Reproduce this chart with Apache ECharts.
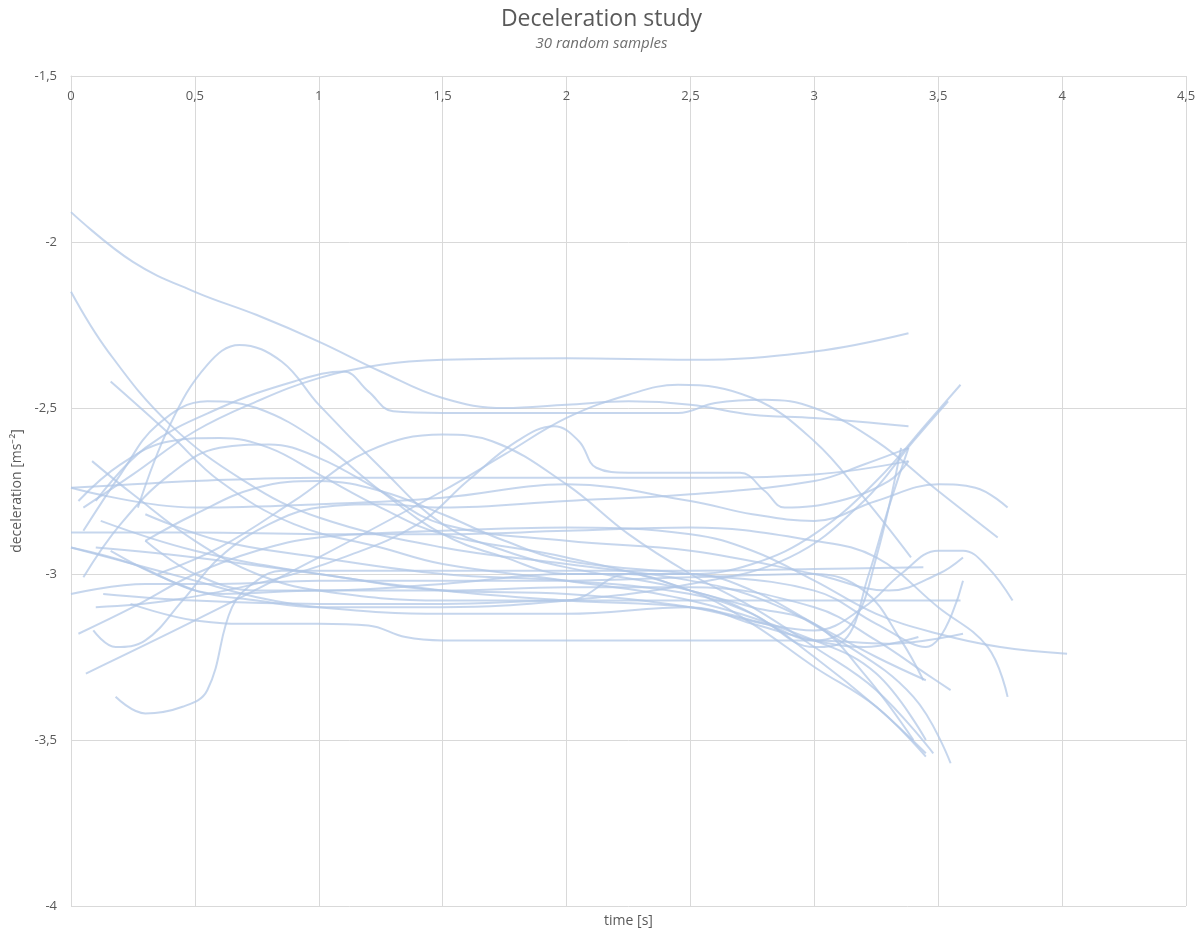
<!DOCTYPE html>
<html>
<head>
<meta charset="utf-8">
<script src="https://cdn.jsdelivr.net/npm/echarts@6/dist/echarts.min.js"></script>
<style>html,body{margin:0;padding:0;background:#fff}#c{width:1203px;height:933px}</style>
</head>
<body>
<div id="c"></div>
<script>
// Chart text
const titleText = 'Deceleration study';
const subtitleText = '30 random samples';
const xName = 'time [s]';
const yName = 'deceleration [ms\u207B\u00B2]';

// Samples: [time s, deceleration ms^-2]
const s01 = [[0,-1.91],[0.25,-2.06],[0.5,-2.15],[0.75,-2.22],[1,-2.3],[1.25,-2.39],[1.5,-2.47],[1.75,-2.5],[2,-2.49],[2.25,-2.48],[2.5,-2.49],[2.75,-2.52],[3,-2.53],[3.38,-2.555]];
const s02 = [[0.05,-2.8],[0.25,-2.7],[0.5,-2.57],[0.75,-2.48],[1,-2.41],[1.25,-2.37],[1.5,-2.355],[2,-2.35],[2.5,-2.355],[3,-2.33],[3.38,-2.275]];
const s03 = [[0.1,-2.78],[0.3,-2.62],[0.6,-2.5],[0.9,-2.42],[1.1,-2.39],[1.2,-2.45],[1.3,-2.51],[1.5,-2.515],[2,-2.515],[2.45,-2.515],[2.6,-2.485],[2.8,-2.475],[3,-2.5],[3.25,-2.6],[3.5,-2.75],[3.74,-2.89]];
const s04 = [[0.27,-2.8],[0.4,-2.55],[0.55,-2.37],[0.68,-2.31],[0.85,-2.36],[1,-2.49],[1.25,-2.68],[1.5,-2.85],[1.75,-2.93],[2,-2.98],[2.5,-3.05],[2.75,-3.12],[3,-3.25],[3.25,-3.4],[3.45,-3.54]];
const s05 = [[0.06,-3.3],[0.5,-3.14],[1,-2.95],[1.5,-2.75],[1.75,-2.64],[2,-2.53],[2.25,-2.46],[2.45,-2.43],[2.75,-2.47],[3,-2.6],[3.2,-2.77],[3.39,-2.95]];
const s06 = [[0.1,-3.1],[0.4,-3.08],[0.8,-3.02],[1.1,-2.95],[1.4,-2.85],[1.6,-2.72],[1.8,-2.6],[1.95,-2.555],[2.05,-2.6],[2.12,-2.68],[2.25,-2.695],[2.5,-2.695],[2.7,-2.695],[2.8,-2.75],[2.88,-2.8],[3.1,-2.78],[3.3,-2.72],[3.38,-2.66]];
const s07 = [[0,-2.74],[0.25,-2.73],[0.5,-2.72],[1,-2.71],[1.5,-2.71],[2,-2.71],[2.5,-2.71],[3,-2.7],[3.38,-2.66]];
const s08 = [[0,-2.74],[0.5,-2.8],[1,-2.79],[1.5,-2.77],[2,-2.73],[2.5,-2.78],[2.75,-2.82],[3,-2.84],[3.25,-2.78],[3.5,-2.73],[3.65,-2.74],[3.78,-2.8]];
const s09 = [[0.35,-3.0],[0.6,-2.92],[0.9,-2.78],[1.2,-2.63],[1.5,-2.58],[1.7,-2.6],[2,-2.73],[2.25,-2.88],[2.5,-3.0],[2.75,-3.1],[3,-3.22],[3.25,-3.35],[3.48,-3.54]];
const s10 = [[0.16,-2.42],[0.4,-2.58],[0.6,-2.72],[0.9,-2.85],[1.25,-2.92],[1.5,-2.97],[2,-3.02],[2.5,-3.08],[3,-3.2],[3.25,-3.3],[3.45,-3.5]];
const s11 = [[0,-2.15],[0.15,-2.33],[0.4,-2.55],[0.7,-2.72],[1,-2.83],[1.5,-2.92],[2,-2.97],[2.5,-3.02],[2.8,-3.08],[3.1,-3.2],[3.4,-3.37],[3.55,-3.57]];
const s12 = [[0,-2.875],[0.5,-2.875],[1,-2.88],[1.5,-2.88],[2,-2.87],[2.5,-2.86],[3,-2.9],[3.25,-2.95],[3.5,-3.1],[3.7,-3.22],[3.78,-3.37]];
const s13 = [[0.18,-3.37],[0.3,-3.42],[0.45,-3.4],[0.55,-3.35],[0.65,-3.1],[0.75,-3.02],[0.85,-2.99],[1,-2.99],[1.5,-2.99],[2,-2.99],[2.5,-2.99],[3,-2.985],[3.44,-2.98]];
const s14 = [[0.24,-3.09],[0.5,-3.14],[0.75,-3.15],[1,-3.15],[1.2,-3.155],[1.35,-3.19],[1.5,-3.2],[2,-3.2],[2.5,-3.2],[3,-3.2],[3.3,-3.21],[3.6,-3.18]];
const s15 = [[0.13,-3.06],[0.5,-3.08],[1,-3.09],[1.5,-3.09],[2,-3.08],[2.5,-3.08],[3,-3.08],[3.59,-3.08]];
const s16 = [[0,-3.06],[0.3,-3.03],[0.6,-3.03],[1,-3.02],[1.5,-3.02],[2,-3.02],[2.5,-3.01],[3,-3.0],[3.2,-3.05],[3.35,-3.2],[3.44,-3.32]];
const s17 = [[0.03,-3.18],[0.25,-3.1],[0.5,-3.0],[0.75,-2.93],[1,-2.89],[1.5,-2.87],[2,-2.86],[2.5,-2.88],[2.75,-2.93],[3,-3.02],[3.25,-3.12],[3.5,-3.18],[3.75,-3.22],[4.02,-3.24]];
const s18 = [[0.09,-3.17],[0.18,-3.22],[0.3,-3.2],[0.45,-3.08],[0.6,-2.95],[0.8,-2.85],[1,-2.8],[1.25,-2.79],[1.5,-2.8],[2,-2.78],[2.5,-2.76],[3,-2.72],[3.2,-2.67],[3.38,-2.62]];
const s19 = [[0.3,-2.9],[0.5,-3.0],[0.75,-3.05],[1,-3.05],[1.5,-3.03],[2,-3.0],[2.5,-3.0],[2.75,-2.97],[3,-2.88],[3.25,-2.72],[3.45,-2.55],[3.59,-2.43]];
const s20 = [[0,-2.92],[0.25,-2.97],[0.5,-3.05],[0.75,-3.08],[1,-3.1],[1.5,-3.1],[2,-3.08],[2.5,-3.03],[2.9,-2.95],[3.2,-2.78],[3.4,-2.6],[3.54,-2.48]];
const s21 = [[0.12,-2.84],[0.5,-2.93],[1,-3.0],[1.5,-3.05],[2,-3.08],[2.5,-3.1],[2.8,-3.15],[3.0,-3.2],[3.15,-3.15],[3.25,-2.95],[3.35,-2.62]];
const s22 = [[0.1,-2.92],[0.5,-2.95],[1,-3.0],[1.5,-3.05],[2,-3.06],[2.5,-3.1],[2.8,-3.15],[3,-3.17],[3.2,-3.1],[3.35,-3.0],[3.5,-2.93],[3.6,-2.93],[3.7,-2.98],[3.8,-3.08]];
const s23 = [[0.03,-2.78],[0.2,-2.67],[0.4,-2.6],[0.6,-2.59],[0.8,-2.62],[1,-2.7],[1.25,-2.8],[1.5,-2.88],[2,-2.95],[2.5,-3.05],[2.75,-3.15],[3,-3.28],[3.25,-3.4],[3.45,-3.55]];
const s24 = [[0.085,-2.66],[0.25,-2.76],[0.5,-2.9],[0.75,-3.0],[1,-3.05],[1.5,-3.08],[2,-3.08],[2.25,-3.0],[2.5,-3.0],[2.75,-3.05],[3,-3.15],[3.25,-3.25],[3.45,-3.32]];
const s25 = [[0,-2.92],[0.25,-2.97],[0.5,-3.02],[0.75,-3.07],[1,-3.1],[1.5,-3.12],[2,-3.12],[2.5,-3.1],[2.75,-3.15],[3,-3.2],[3.2,-3.22],[3.42,-3.19]];
const s26 = [[0.16,-2.93],[0.4,-3.02],[0.6,-3.06],[1,-3.05],[1.5,-3.05],[2,-3.04],[2.5,-3.04],[3,-3.1],[3.25,-3.2],[3.45,-3.3],[3.55,-3.35]];
const s27 = [[0.3,-2.9],[0.5,-2.82],[0.75,-2.74],[1,-2.72],[1.25,-2.75],[1.5,-2.82],[1.75,-2.9],[2,-2.96],[2.5,-3.0],[3,-3.05],[3.25,-3.15],[3.45,-3.22],[3.6,-3.02]];
const s28 = [[0.05,-3.01],[0.2,-2.85],[0.4,-2.7],[0.6,-2.62],[0.8,-2.61],[1,-2.65],[1.25,-2.75],[1.5,-2.85],[2,-2.9],[2.5,-2.93],[3,-3.0],[3.3,-3.05],[3.5,-3.0],[3.6,-2.95]];
const s29 = [[0.3,-2.82],[0.6,-2.9],[1,-2.95],[1.5,-3.0],[2,-3.02],[2.5,-3.06],[2.75,-3.12],[3,-3.22],[3.12,-3.2],[3.22,-3.0],[3.3,-2.8],[3.38,-2.62]];
const s30 = [[0.05,-2.87],[0.2,-2.7],[0.35,-2.55],[0.55,-2.48],[0.75,-2.5],[1,-2.6],[1.25,-2.75],[1.5,-2.88],[1.75,-2.95],[2,-3.0],[2.25,-3.0],[2.5,-3.05],[2.75,-3.1],[3,-3.15],[3.2,-3.3],[3.4,-3.5]];

const samples = [s01,s02,s03,s04,s05,s06,s07,s08,s09,s10,s11,s12,s13,s14,s15,s16,s17,s18,s19,s20,s21,s22,s23,s24,s25,s26,s27,s28,s29,s30];

const fmt = v => String(v).replace('.', ',');
const FONT = '"Open Sans", sans-serif';

const chart = echarts.init(document.getElementById('c'), null, {renderer: 'canvas'});
chart.setOption({
  animation: false,
  backgroundColor: '#ffffff',
  title: {
    text: titleText,
    subtext: subtitleText,
    left: 'center',
    top: 3,
    itemGap: 5,
    textStyle: {fontFamily: FONT, fontSize: 23, fontWeight: 'normal', color: '#595959'},
    subtextStyle: {fontFamily: FONT, fontSize: 15, fontStyle: 'italic', color: '#6f6f6f'}
  },
  grid: {left: 71, right: 17, top: 76, bottom: 20, containLabel: false},
  xAxis: [{
    type: 'value', position: 'top', min: 0, max: 4.5, interval: 0.5,
    axisLine: {show: true, lineStyle: {color: '#d9d9d9', width: 1}},
    axisTick: {show: false},
    axisLabel: {inside: true, fontFamily: FONT, fontSize: 13, color: '#595959', formatter: fmt, margin: 14},
    splitLine: {show: true, lineStyle: {color: '#d9d9d9', width: 1}}
  }, {
    type: 'value', position: 'bottom', min: 0, max: 4.5,
    name: xName, nameLocation: 'middle', nameGap: 8,
    nameTextStyle: {fontFamily: FONT, fontSize: 14, color: '#595959'},
    axisLine: {show: false}, axisTick: {show: false}, axisLabel: {show: false}, splitLine: {show: false}
  }],
  yAxis: {
    type: 'value', min: -4, max: -1.5, interval: 0.5,
    name: yName, nameLocation: 'middle', nameGap: 45,
    nameTextStyle: {fontFamily: FONT, fontSize: 14, color: '#595959'},
    axisLine: {show: true, lineStyle: {color: '#d9d9d9', width: 1}},
    axisTick: {show: false},
    axisLabel: {fontFamily: FONT, fontSize: 13, color: '#595959', formatter: fmt, margin: 14},
    splitLine: {show: true, lineStyle: {color: '#d9d9d9', width: 1}}
  },
  series: samples.map((d, i) => ({
    type: 'line', name: 'sample ' + (i + 1), data: d, xAxisIndex: 0,
    smooth: 0.4, showSymbol: false, symbol: 'none',
    lineStyle: {color: 'rgba(176,198,230,0.72)', width: 2}
  }))
});
</script>
</body>
</html>
